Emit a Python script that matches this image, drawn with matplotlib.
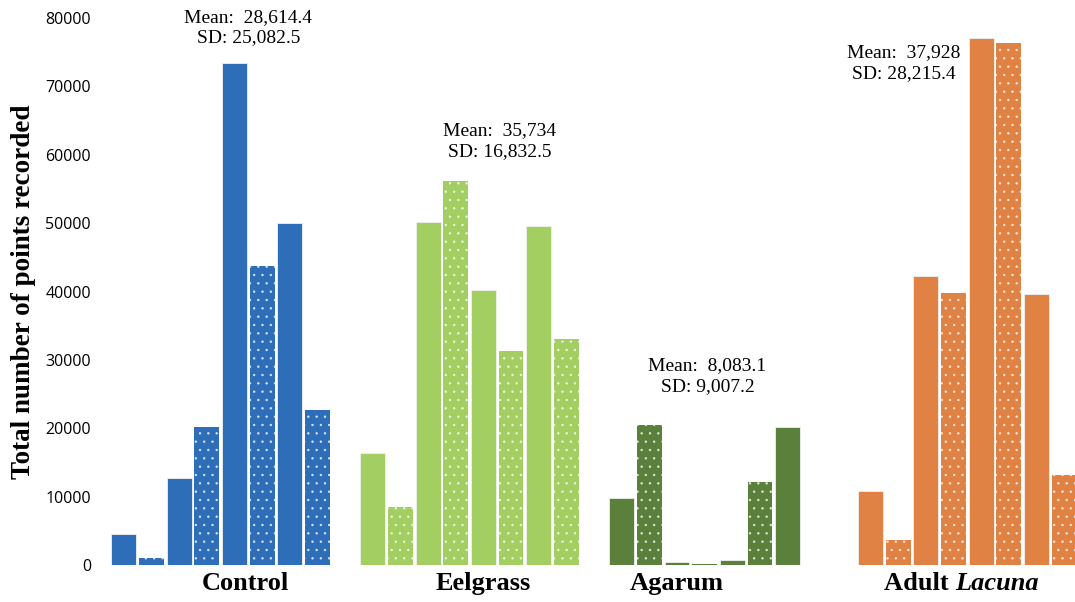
import matplotlib.pyplot as plt
import numpy as np

# Points recorded per trial, four treatments
groups = ['Control', 'Eelgrass', 'Agarum', 'Adult Lacuna']
control = [4500, 1000, 12700, 20200, 73400, 43800, 50000, 22600]
eelgrass = [16400, 8500, 50100, 56200, 40200, 31300, 49600, 33000]
agarum = [9800, 20500, 500, 100, 700, 12200, 20200, 0]
lacuna = [10800, 3600, 42200, 39800, 77100, 76400, 39700, 13100]
means = ['28,614.4', '35,734', '8,083.1', '37,928']
sds = ['25,082.5', '16,832.5', '9,007.2', '28,215.4']

colors = ['#2E6EB8', '#A2CE62', '#5B803C', '#E08244']
series = [control, eelgrass, agarum, lacuna]
starts = [0, 9, 18, 27]  # first slot of each group (one empty slot between, two before Lacuna)

plt.rcParams['hatch.linewidth'] = 0.5

fig = plt.figure(figsize=(10.75, 6.02), dpi=100)
ax = fig.add_axes([105 / 1075, 37 / 602, 970 / 1075, 547 / 602])

for vals, col, s0 in zip(series, colors, starts):
    xs = s0 + np.arange(len(vals))
    for i, (x, v) in enumerate(zip(xs, vals)):
        if i % 2 == 0:
            ax.bar(x, v, width=0.9, color=col, edgecolor='#f0f0f0', linewidth=0.6)
        else:
            ax.bar(x, v, width=0.9, color=col, edgecolor=(1, 1, 1, 0.75), linewidth=0, hatch='..')

ax.set_ylim(0, 80000)
ax.set_xlim(-0.68, 34.39)
ax.set_yticks(np.arange(0, 80001, 10000))
ax.tick_params(axis='y', length=0, pad=10, labelsize=11.5)
for lab in ax.get_yticklabels():
    lab.set_fontfamily('Open Sans')
ax.set_xticks([])
for sp in ax.spines.values():
    sp.set_visible(False)

ax.set_ylabel('Total number of points recorded', fontsize=19.5, fontweight='bold',
              fontfamily='Liberation Serif')
ax.yaxis.set_label_coords(-0.071, 0.5)

# group names under the bars
serif = 'Liberation Serif'
name_y = -0.034
kw = dict(transform=ax.get_xaxis_transform(), va='center', fontsize=19,
          fontweight='bold', fontfamily=serif)
ax.text(4.4, name_y, 'Control', ha='center', **kw)
ax.text(13.0, name_y, 'Eelgrass', ha='center', **kw)
ax.text(20.0, name_y, 'Agarum', ha='center', **kw)
ax.text(30.05, name_y, 'Adult ', ha='right', **kw)
ax.text(30.05, name_y, 'Lacuna', ha='left', fontstyle='italic', **kw)

# mean / SD annotations
ann_pos = [(4.5, 78600), (13.6, 62000), (21.1, 27640), (28.2, 73400)]
for (x, y), m, s in zip(ann_pos, means, sds):
    ax.text(x, y, f'Mean:  {m}\nSD: {s}', ha='center', va='center', fontsize=14,
            fontfamily=serif, linespacing=1.25, clip_on=False)

plt.savefig('out.png', dpi=100)
plt.close()
